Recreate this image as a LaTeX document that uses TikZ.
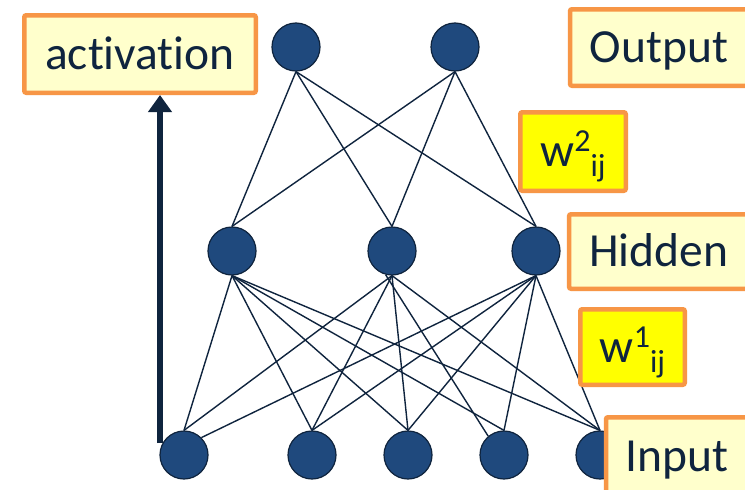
\documentclass[tikz,border=0pt]{standalone}
\usepackage{fontspec}
\setmainfont{Carlito}[Ligatures=NoCommon]
\usetikzlibrary{arrows.meta}
\definecolor{navy}{HTML}{0F243E}
\definecolor{nodeblue}{HTML}{1F497D}
\definecolor{orangeb}{HTML}{F79646}
\definecolor{lightyel}{HTML}{FFFFCC}
\definecolor{yel}{HTML}{FFFF00}
\newcommand{\wlab}[1]{w\raisebox{15pt}{\fontsize{32}{32}\selectfont #1}\raisebox{-10pt}{\fontsize{32}{32}\selectfont ij}}
\begin{document}
\begin{tikzpicture}[x=1pt,y=-1pt,
  neuron/.style={circle,fill=nodeblue,draw=navy,line width=1.2pt,minimum size=48pt,inner sep=0pt},
  conn/.style={draw=navy,line width=1.4pt},
  labelbox/.style={draw=orangeb,line width=4.5pt,rounded corners=2pt,fill=lightyel,text=navy,
     font=\fontsize{47.5}{56}\selectfont,inner sep=0pt,text height=30.5pt,text depth=0pt},
  wbox/.style={labelbox,fill=yel},
  bigarrow/.style={draw=navy,line width=6pt,-{Triangle[width=23pt,length=17pt]}}]
\clip (0,0) rectangle (745,490);
\fill[white] (0,0) rectangle (745,490);
% neurons
\node[neuron] (o1) at (296,47) {};
\node[neuron] (o2) at (455,47) {};
\node[neuron] (h1) at (232,251) {};
\node[neuron] (h2) at (392,251) {};
\node[neuron] (h3) at (536,251) {};
\node[neuron] (i1) at (184,455) {};
\node[neuron] (i2) at (312,455) {};
\node[neuron] (i3) at (408,455) {};
\node[neuron] (i4) at (504,455) {};
\node[neuron] (i5) at (600,455) {};
% hidden-output connections
\foreach \o in {o1,o2}
  \foreach \h in {h1,h2,h3}
    \draw[conn] (\o.south) -- (\h.north);
% input-hidden connections
\foreach \i in {i1,i2,i3,i4,i5}
  \draw[conn] (h1.south) -- (\i.north);
\foreach \i in {i1,i2,i3,i5}
  \draw[conn] (h2.south) -- (\i.north);
\draw[conn] (h2.255) -- (i4.130);
\foreach \i in {i2,i3,i4,i5}
  \draw[conn] (h3.south) -- (\i.north);
\draw[conn] (h3.south) -- (i1.45);
% labels
\node[labelbox,minimum width=231.5pt,minimum height=77.5pt] (act) at (140,54) {activation};
\node[labelbox,minimum width=178pt,minimum height=76.5pt] (out) at (659,47.5) {Output};
\node[labelbox,minimum width=179pt,minimum height=74.5pt] (hid) at (658.6,251.5) {Hidden};
\node[labelbox,minimum width=142pt,minimum height=77pt] (inp) at (677,455.75) {Input};
\node[wbox,minimum width=105.5pt,minimum height=78.5pt] (w2) at (573,151.5) {\wlab{2}};
\node[wbox,minimum width=104.5pt,minimum height=75.5pt] (w1) at (632.5,347) {\wlab{1}};
% activation arrow
\coordinate (abot) at (160,443);
\draw[bigarrow] (abot) -- (abot |- act.south);
\end{tikzpicture}
\end{document}
